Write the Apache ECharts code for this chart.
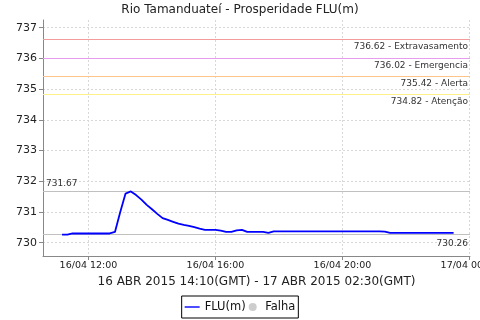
<!DOCTYPE html>
<html>
<head>
<meta charset="utf-8">
<script src="https://cdn.jsdelivr.net/npm/echarts@6/dist/echarts.min.js"></script>
<style>html,body{margin:0;padding:0;background:#fff;}#c{width:480px;height:320px;}</style>
</head>
<body>
<div id="c"></div>
<script>
const titleText = 'Rio Tamanduateí - Prosperidade FLU(m)';
const xAxisName = '16 ABR 2015 14:10(GMT) - 17 ABR 2015 02:30(GMT)';
const times = ['11:10','11:20','11:30','11:40','11:50','12:00','12:10','12:20','12:30','12:40',
  '12:50','13:00','13:10','13:20','13:30','13:40','13:50','14:00','14:10','14:20',
  '14:30','14:40','14:50','15:00','15:10','15:20','15:30','15:40','15:50','16:00',
  '16:10','16:20','16:30','16:40','16:50','17:00','17:10','17:20','17:30','17:40',
  '17:50','18:00','18:10','18:20','18:30','18:40','18:50','19:00','19:10','19:20',
  '19:30','19:40','19:50','20:00','20:10','20:20','20:30','20:40','20:50','21:00',
  '21:10','21:20','21:30','21:40','21:50','22:00','22:10','22:20','22:30','22:40',
  '22:50','23:00','23:10','23:20','23:30'];
const fluValues = [730.26,730.26,730.30,730.30,730.30,730.30,730.30,730.30,730.30,730.30,
  730.35,731.00,731.60,731.67,731.55,731.40,731.23,731.09,730.94,730.80,
  730.74,730.68,730.62,730.58,730.55,730.51,730.46,730.42,730.42,730.42,
  730.39,730.35,730.35,730.40,730.42,730.35,730.35,730.35,730.35,730.32,
  730.37,730.37,730.37,730.37,730.37,730.37,730.37,730.37,730.37,730.37,
  730.37,730.37,730.37,730.37,730.37,730.37,730.37,730.37,730.37,730.37,
  730.37,730.36,730.32,730.32,730.32,730.32,730.32,730.32,730.32,730.32,
  730.32,730.32,730.32,730.32,730.32];
const thresholdValues = [736.62, 736.02, 735.42, 734.82];
const thresholdNames = ['Extravasamento', 'Emergencia', 'Alerta', 'Atenção'];
const thresholdColors = ['#f29c9c', '#e89cf0', '#ffc48a', '#fff08a'];
const xTickValues = [720, 960, 1200, 1440];
const xTickLabels = ['16/04 12:00', '16/04 16:00', '16/04 20:00', '17/04 00:00'];
const yTickValues = [730, 731, 732, 733, 734, 735, 736, 737];

function toMin(t){ const p=t.split(':'); return (+p[0])*60 + (+p[1]); }
const seriesData = times.map((t,i)=>[toMin(t), fluValues[i]]);
const maxV = Math.max(...fluValues), minV = Math.min(...fluValues);

const FONT = 'DejaVu Sans';
const markData = thresholdValues.map((v,i)=>({
  yAxis: v,
  lineStyle: {color: thresholdColors[i], width: 1, type: 'solid'},
  label: {show: true, position: 'insideEndBottom', formatter: v.toFixed(2) + ' - ' + thresholdNames[i],
          fontSize: 9, color: '#333', fontFamily: FONT, distance: [2, 3]}
}));
markData.push({yAxis: maxV, lineStyle: {color: '#c0c0c0', width: 1, type: 'solid'},
  label: {show: true, position: 'insideStartTop', formatter: maxV.toFixed(2), fontSize: 9, color: '#333', fontFamily: FONT, distance: [3, 3]}});
markData.push({yAxis: minV, lineStyle: {color: '#c0c0c0', width: 1, type: 'solid'},
  label: {show: true, position: 'insideEndBottom', formatter: minV.toFixed(2), fontSize: 9, color: '#333', fontFamily: FONT, distance: [2, 4]}});

const chart = echarts.init(document.getElementById('c'), null, {renderer: 'canvas'});
chart.setOption({
  backgroundColor: '#fff',
  animation: false,
  textStyle: {fontFamily: FONT},
  title: {text: titleText, left: 'center', top: 4, padding: 0,
    textStyle: {fontSize: 12, fontWeight: 'normal', color: '#222', fontFamily: FONT}},
  grid: {left: 43, right: 10, top: 20, bottom: 64, containLabel: false, outerBoundsMode: 'none'},
  legend: {
    left: 'center', top: 296, padding: [5, 3, 5, 3], itemGap: 3,
    borderColor: '#000', borderWidth: 1, borderRadius: 0,
    itemWidth: 15, itemHeight: 8,
    textStyle: {fontSize: 11.5, color: '#111', fontFamily: FONT},
    data: [{name: 'FLU(m)', icon: 'path://M0,0 M0,3.3 L15,3.3 L15,4.7 L0,4.7 Z M15,8'}, {name: 'Falha', icon: 'circle'}]
  },
  xAxis: {
    type: 'value', min: 634, max: 1441,
    name: xAxisName, nameLocation: 'middle', nameGap: 19,
    nameTextStyle: {fontSize: 12, color: '#222', fontFamily: FONT},
    axisLine: {show: true, lineStyle: {color: '#888'}},
    axisTick: {show: true, length: 4, lineStyle: {color: '#888'}, customValues: xTickValues},
    axisLabel: {customValues: xTickValues, fontSize: 9.5, color: '#222', margin: 5, fontFamily: FONT,
      showMinLabel: true, showMaxLabel: true, hideOverlap: false,
      formatter: v => xTickLabels[xTickValues.indexOf(v)] || ''},
    splitLine: {show: true, lineStyle: {color: '#d8d8d8', type: [2, 2]}}
  },
  yAxis: {
    type: 'value', min: 729.567, max: 737.25,
    axisLine: {show: true, lineStyle: {color: '#888'}},
    axisTick: {show: true, length: 4, lineStyle: {color: '#888'}, customValues: yTickValues},
    axisLabel: {customValues: yTickValues, fontSize: 11, color: '#222', margin: 6, fontFamily: FONT,
      formatter: v => String(v)},
    splitLine: {show: true, lineStyle: {color: '#d8d8d8', type: [2, 2]}}
  },
  series: [
    {name: 'FLU(m)', type: 'line', data: seriesData, symbol: 'none', color: '#0000ff',
     lineStyle: {width: 1.8, color: '#0000ff'}, z: 5,
     markLine: {silent: true, symbol: 'none', data: markData, animation: false}},
    {name: 'Falha', type: 'scatter', data: [], color: '#c0c0c0'}
  ]
});
</script>
</body>
</html>
